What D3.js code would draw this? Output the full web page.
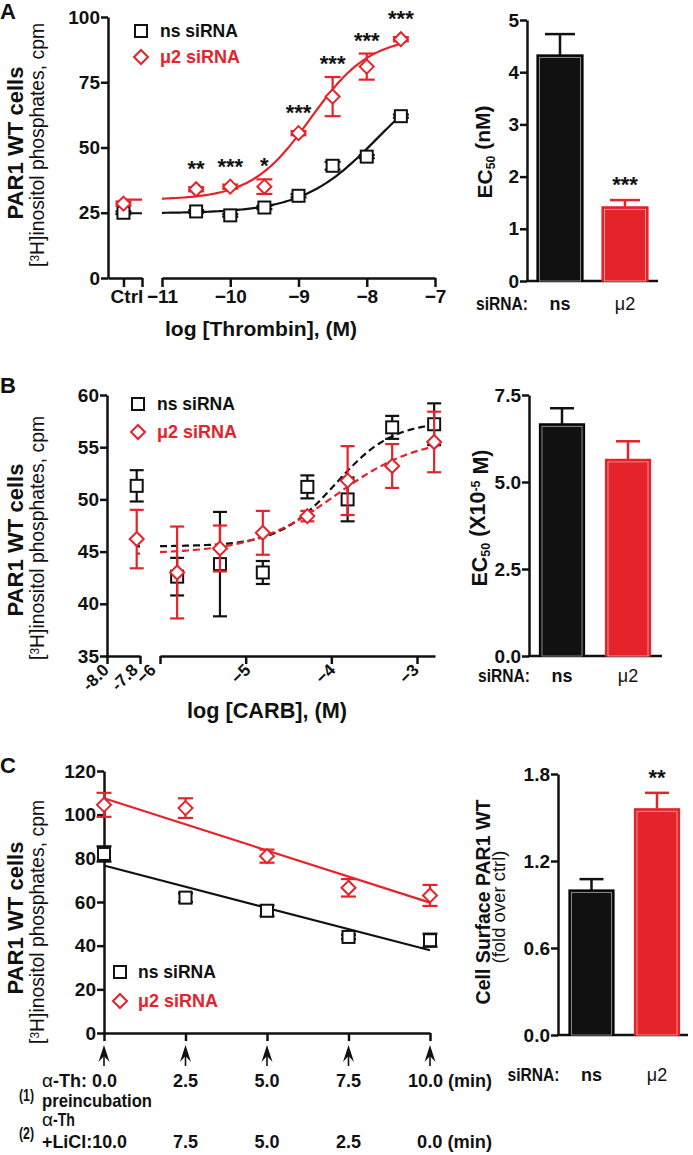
<!DOCTYPE html>
<html><head><meta charset="utf-8">
<script src="https://cdn.jsdelivr.net/npm/d3@7"></script>
<style>body{margin:0;background:#fff}svg{display:block}</style>
</head><body><svg id="c" width="693" height="1155"></svg>
<script>
// ---------------- DATA ----------------
const seriesNames = ["ns siRNA", "μ2 siRNA"];
const barGroups = ["ns", "μ2"];

// Panel A: log [Thrombin]
const aLogX = [-10.5, -10, -9.5, -9, -8.5, -8, -7.5];
const aCtrlX = -13;
const aNsCtrl = [25.0, 0.5];
const aMuCtrl = [28.5, 0.8];
const aNsVal = [25.5, 24.0, 27.0, 31.5, 43.0, 46.5, 62.0];
const aNsErr = [0.5, 0.5, 0.6, 0.6, 1.5, 0.6, 0.6];
const aMuVal = [34.0, 35.0, 35.0, 55.5, 69.5, 81.0, 91.5];
const aMuErr = [0.8, 0.8, 2.8, 0.8, 7.5, 5.0, 0.8];
const aStars = ["**", "***", "*", "***", "***", "***", "***"];
const aFitNs = [24.8, 82, -7.85, 0.8];   // bottom, top, logEC50, hill
const aFitMu = [30, 92.5, -8.82, 1.0];
const aYTicks = [0, 25, 50, 75, 100];
const aXTicks = [-11, -10, -9, -8, -7];
const aEC50 = [4.33, 1.42];
const aEC50Err = [0.40, 0.13];
const aEC50Stars = ["", "***"];
const aEC50Ticks = [0, 1, 2, 3, 4, 5];

// Panel B: log [CARB]
const bCtrlX = -7.82;
const bLogX = [-5.8, -5.3, -4.8, -4.28, -3.81, -3.29, -2.8];
const bNsCtrl = [51.3, 1.5];
const bMuCtrl = [46.2, 2.8];
const bNsVal = [42.6, 43.8, 43.0, 51.2, 50.0, 56.9, 57.2];
const bNsErr = [1.8, 5.0, 1.1, 1.1, 2.1, 1.1, 2.0];
const bMuVal = [43.0, 45.3, 46.8, 48.4, 51.8, 53.2, 55.5];
const bMuErr = [4.4, 2.2, 2.1, 0.5, 3.3, 2.1, 2.9];
const bFitNs = [45.5, 57.5, -3.95, 1.3];
const bFitMu = [44.8, 56.0, -3.95, 0.9];
const bYTicks = [35, 40, 45, 50, 55, 60];
const bXTicks1 = [-8.0, -7.8];
const bXTicks1Labels = ["-8.0", "-7.8"];
const bXTicks2 = [-6, -5, -4, -3];
const bEC50 = [6.67, 5.65];
const bEC50Err = [0.45, 0.52];
const bEC50Ticks = [0, 2.5, 5.0, 7.5];

// Panel C: time course
const cTime = [0, 2.5, 5.0, 7.5, 10.0];
const cNsVal = [82.0, 62.0, 56.0, 44.0, 42.5];
const cNsErr = [3.5, 2.0, 2.5, 1.0, 3.0];
const cMuVal = [104.5, 103.0, 81.0, 66.5, 63.0];
const cMuErr = [5.5, 4.5, 3.0, 4.0, 4.8];
const cYTicks = [0, 20, 40, 60, 80, 100, 120];
const cRow1 = ["0.0", "2.5", "5.0", "7.5", "10.0"];
const cRow2 = ["10.0", "7.5", "5.0", "2.5", "0.0"];
const cSurface = [1.0, 1.56];
const cSurfaceErr = [0.075, 0.11];
const cSurfaceStars = ["", "**"];
const cSurfaceTicks = [0, 0.6, 1.2, 1.8];

// ---------------- DRAWING ----------------
const BLACK = "#111", RED = "#e4232a";
const FONT = "'Liberation Sans', Arial, Helvetica, sans-serif";
const svg = d3.select("#c");

function txt(x, y, s, o = {}) {
  const t = svg.append("text").attr("x", x).attr("y", y).text(s)
    .attr("font-family", FONT)
    .attr("font-size", o.size || 18)
    .attr("font-weight", o.weight || "bold")
    .attr("fill", o.fill || BLACK)
    .attr("text-anchor", o.anchor || "start");
  if (o.rotate) t.attr("transform", `rotate(${o.rotate},${x},${y})`);
  if (o.len) fitLen(t, o.len);
  if (o.squeeze) t.attr("textLength", o.squeeze).attr("lengthAdjust", "spacingAndGlyphs");
  return t;
}
// scale font size so that the text run has the given length
function fitLen(t, target) {
  const w = t.node().getComputedTextLength();
  const fs = parseFloat(t.attr("font-size"));
  if (w > 0) t.attr("font-size", (fs * target / w).toFixed(2));
}
function styleAxis(g, size) {
  g.attr("font-family", FONT).attr("font-size", size).attr("font-weight", "bold");
  g.select(".domain").attr("stroke", BLACK).attr("stroke-width", 2.5);
  g.selectAll(".tick line").attr("stroke", BLACK).attr("stroke-width", 2.5);
  g.selectAll(".tick text").attr("fill", BLACK);
}
function fitY(p, x) { const [b, t, l, h] = p; return b + (t - b) / (1 + Math.pow(10, (l - x) * h)); }

function yTitles(cx, cy, cy2) {
  txt(cx, cy, "PAR1 WT cells", { size: 21, anchor: "middle", rotate: -90, len: 153 });
  const t = svg.append("text").attr("transform", `translate(${cx + 21},${cy2}) rotate(-90)`)
    .attr("text-anchor", "middle").attr("font-family", FONT).attr("font-size", 17).attr("fill", BLACK);
  t.append("tspan").text("[");
  t.append("tspan").text("3").attr("font-size", "0.62em").attr("dy", "-0.45em");
  t.append("tspan").text("H]inositol phosphates, cpm").attr("dy", "0.28em");
  fitLen(t, 244);
}

function square(x, y, color) {
  svg.append("rect").attr("x", x - 6).attr("y", y - 6).attr("width", 12).attr("height", 12)
    .attr("fill", "#fff").attr("stroke", color).attr("stroke-width", 2);
}
function diamond(x, y, color) {
  svg.append("path").attr("d", `M${x},${y - 7}L${x + 7},${y}L${x},${y + 7}L${x - 7},${y}Z`)
    .attr("fill", "#fff").attr("stroke", color).attr("stroke-width", 2);
}
function errBar(x, lo, hi, color, cap) {
  const g = svg.append("g").attr("stroke", color).attr("stroke-width", 2.2);
  g.append("line").attr("x1", x).attr("x2", x).attr("y1", lo).attr("y2", hi);
  g.append("line").attr("x1", x - cap / 2).attr("x2", x + cap / 2).attr("y1", lo).attr("y2", lo);
  g.append("line").attr("x1", x - cap / 2).attr("x2", x + cap / 2).attr("y1", hi).attr("y2", hi);
}
function points(xs, vals, errs, xScale, yScale, color, shape, cap) {
  xs.forEach((xv, i) => {
    if (errs[i] > 0) errBar(xScale(xv), yScale(vals[i] - errs[i]), yScale(vals[i] + errs[i]), color, cap);
  });
  xs.forEach((xv, i) => {
    const x = xScale(xv), y = yScale(vals[i]);
    shape === "sq" ? square(x, y, color) : diamond(x, y, color);
  });
}
function curve(p, x0, x1, xScale, yScale, color, dashed) {
  const pts = d3.range(0, 121).map(i => x0 + (x1 - x0) * i / 120);
  svg.append("path").attr("d", d3.line().x(d => xScale(d)).y(d => yScale(fitY(p, d)))(pts))
    .attr("fill", "none").attr("stroke", color).attr("stroke-width", 2.2)
    .attr("stroke-dasharray", dashed ? "7,4" : null);
}
function legend(x, y1, y2, tx) {
  square(x, y1, BLACK);
  txt(tx, y1 + 6, seriesNames[0], { size: 17.5, len: 78 });
  diamond(x, y2, RED);
  txt(tx, y2 + 6, seriesNames[1], { size: 17.5, fill: RED, len: 80 });
}

function barChart(o) {
  const y = d3.scaleLinear().domain(o.yDomain).range(o.yRange);
  const gy = svg.append("g").attr("transform", `translate(${o.axisX},0)`)
    .call(d3.axisLeft(y).tickValues(o.ticks).tickFormat(o.fmt).tickSize(7).tickSizeOuter(0).tickPadding(1));
  styleAxis(gy, 19);
  svg.append("line").attr("x1", o.axisX - 1).attr("x2", o.axisEnd).attr("y1", o.yRange[0]).attr("y2", o.yRange[0])
    .attr("stroke", BLACK).attr("stroke-width", 2.5);
  const colors = [BLACK, RED];
  const strokes = ["#000", "#e4232a"];
  o.values.forEach((v, i) => {
    const cx = o.centers[i], w = o.width, top = y(v + o.errs[i]);
    svg.append("line").attr("x1", cx - o.cap / 2).attr("x2", cx + o.cap / 2)
      .attr("y1", top).attr("y2", top).attr("stroke", colors[i]).attr("stroke-width", 2.5);
    svg.append("line").attr("x1", cx).attr("x2", cx).attr("y1", y(v)).attr("y2", top)
      .attr("stroke", colors[i]).attr("stroke-width", 2.5);
    svg.append("rect").attr("x", cx - w / 2).attr("y", y(v)).attr("width", w).attr("height", o.yRange[0] - y(v))
      .attr("fill", colors[i]).attr("stroke", strokes[i]).attr("stroke-width", 1.2);
    svg.append("rect").attr("x", cx - w / 2 + 2.5).attr("y", y(v) + 2.5).attr("width", w - 5).attr("height", o.yRange[0] - y(v) - 2.5)
      .attr("fill", "none").attr("stroke", "#fff").attr("stroke-opacity", 0.55).attr("stroke-width", 0.9);
    if (o.stars && o.stars[i]) txt(cx, top - 8, o.stars[i], { size: 22, anchor: "middle" });
  });
  txt(o.centers[0] - 32, o.labelY, "siRNA:", { size: 18, anchor: "end", squeeze: 52 });
  txt(o.centers[0], o.labelY, barGroups[0], { size: 18, anchor: "middle" });
  txt(o.centers[1], o.labelY, barGroups[1], { size: 18, anchor: "middle", weight: "normal" });
}
function ecTitle(x, y, withExp, target) {
  const t = svg.append("text").attr("transform", `translate(${x},${y}) rotate(-90)`).attr("text-anchor", "middle")
    .attr("font-family", FONT).attr("font-size", 21).attr("font-weight", "bold").attr("fill", BLACK);
  t.append("tspan").text("EC");
  t.append("tspan").text("50").attr("font-size", "0.58em").attr("dy", "0.25em");
  if (!withExp) {
    t.append("tspan").text(" (nM)").attr("dy", "-0.25em");
  } else {
    t.append("tspan").text(" (X10").attr("dy", "-0.25em");
    t.append("tspan").text("-5").attr("font-size", "0.58em").attr("dy", "-0.4em");
    t.append("tspan").text(" M)").attr("dy", "0.4em");
  }
  fitLen(t, target);
}

// ======== Panel A ========
txt(0, 19, "A", { size: 22 });
yTitles(23, 143, 145);
{
  const y = d3.scaleLinear().domain([0, 100]).range([278, 17]);
  const x1 = d3.scaleLinear().domain([-13.5, -12.4]).range([108, 142]);
  const x2 = d3.scaleLinear().domain([-11, -7]).range([162, 435]);
  const gy = svg.append("g").attr("transform", "translate(108,0)")
    .call(d3.axisLeft(y).tickValues(aYTicks).tickSize(7).tickSizeOuter(0).tickPadding(1));
  styleAxis(gy, 19);
  const gx1 = svg.append("g").attr("transform", "translate(0,278)")
    .call(d3.axisBottom(x1).tickValues([aCtrlX, -12.4]).tickFormat(d => d === aCtrlX ? "Ctrl" : "").tickSize(9).tickSizeOuter(0).tickPadding(3));
  styleAxis(gx1, 19);
  gx1.selectAll(".tick text").attr("dx", 3);
  const gx2 = svg.append("g").attr("transform", "translate(0,278)")
    .call(d3.axisBottom(x2).tickValues(aXTicks).tickFormat(d3.format("d")).tickSize(9).tickSizeOuter(0).tickPadding(3));
  styleAxis(gx2, 19);
  txt(261, 336, "log [Thrombin], (M)", { size: 21, anchor: "middle", len: 192 });

  curve(aFitNs, aCtrlX, -12.4, x1, y, BLACK);
  curve(aFitMu, aCtrlX, -12.4, x1, y, RED);
  curve(aFitNs, -11, -7.5, x2, y, BLACK);
  curve(aFitMu, -11, -7.5, x2, y, RED);
  points([aCtrlX], [aNsCtrl[0]], [aNsCtrl[1]], x1, y, BLACK, "sq", 16);
  points([aCtrlX], [aMuCtrl[0]], [aMuCtrl[1]], x1, y, RED, "dia", 16);
  points(aLogX, aNsVal, aNsErr, x2, y, BLACK, "sq", 16);
  points(aLogX, aMuVal, aMuErr, x2, y, RED, "dia", 16);
  aLogX.forEach((xv, i) => {
    const base = Math.min(y(aMuVal[i]) - 7, y(aMuVal[i] + aMuErr[i])) - 6;
    txt(x2(xv), base, aStars[i], { size: 22, anchor: "middle" });
  });
  legend(141, 31, 57, 160);
}
barChart({ yDomain: [0, 5], yRange: [281, 20], axisX: 527, axisEnd: 658, ticks: aEC50Ticks, fmt: d3.format("d"),
  values: aEC50, errs: aEC50Err, centers: [560, 625], width: 46, cap: 30, stars: aEC50Stars, labelY: 310 });
ecTitle(492, 152, false, 93);

// ======== Panel B ========
txt(0, 393, "B", { size: 22 });
yTitles(23, 540, 538);
{
  const y = d3.scaleLinear().domain([35, 60]).range([656, 395]);
  const x1 = d3.scaleLinear().domain([-8.0, -7.8]).range([107, 140]);
  const x2 = d3.scaleLinear().domain([-6, -2.79]).range([160, 435]);
  const gy = svg.append("g").attr("transform", "translate(107,0)")
    .call(d3.axisLeft(y).tickValues(bYTicks).tickSize(7).tickSizeOuter(0).tickPadding(1));
  styleAxis(gy, 19);
  const gx1 = svg.append("g").attr("transform", "translate(0,656)")
    .call(d3.axisBottom(x1).tickValues(bXTicks1).tickFormat(() => "").tickSize(8).tickSizeOuter(0));
  styleAxis(gx1, 19);
  const gx2 = svg.append("g").attr("transform", "translate(0,656)")
    .call(d3.axisBottom(x2).tickValues(bXTicks2).tickFormat(() => "").tickSize(8).tickSizeOuter(0));
  styleAxis(gx2, 19);
  const off1 = [3, -1], off2 = [-3, 6, 5, 3];
  bXTicks1.forEach((v, i) => txt(x1(v) + off1[i], 671, bXTicks1Labels[i], { size: 17, anchor: "end", rotate: -45 }));
  bXTicks2.forEach((v, i) => txt(x2(v) + off2[i], 671, d3.format("d")(v), { size: 17, anchor: "end", rotate: -45 }));
  txt(267, 718, "log [CARB], (M)", { size: 21, anchor: "middle", len: 160 });

  curve(bFitNs, -7.82, -7.8, x1, y, BLACK, true);
  curve(bFitMu, -7.82, -7.8, x1, y, RED, true);
  curve(bFitNs, -6, -2.75, x2, y, BLACK, true);
  curve(bFitMu, -6, -2.75, x2, y, RED, true);
  points([bCtrlX], [bNsCtrl[0]], [bNsCtrl[1]], x1, y, BLACK, "sq", 14);
  points(bLogX, bNsVal, bNsErr, x2, y, BLACK, "sq", 14);
  points([bCtrlX], [bMuCtrl[0]], [bMuCtrl[1]], x1, y, RED, "dia", 14);
  points(bLogX, bMuVal, bMuErr, x2, y, RED, "dia", 14);
  legend(138, 404, 432, 157);
}
barChart({ yDomain: [0, 7.5], yRange: [656, 395], axisX: 529, axisEnd: 662, ticks: bEC50Ticks, fmt: d3.format(".1f"),
  values: bEC50, errs: bEC50Err, centers: [562, 628], width: 45, cap: 24, stars: null, labelY: 682 });
ecTitle(487, 518, true, 137);

// ======== Panel C ========
txt(0, 773, "C", { size: 22 });
yTitles(23, 918, 922);
{
  const y = d3.scaleLinear().domain([0, 120]).range([1033, 771]);
  const x = d3.scaleLinear().domain([0, 10]).range([104, 430]);
  const gy = svg.append("g").attr("transform", "translate(104,0)")
    .call(d3.axisLeft(y).tickValues(cYTicks).tickSize(7).tickSizeOuter(0).tickPadding(1));
  styleAxis(gy, 19);
  const gx = svg.append("g").attr("transform", "translate(0,1033)")
    .call(d3.axisBottom(x).tickValues(cTime).tickFormat(() => "").tickSize(8).tickSizeOuter(0));
  styleAxis(gx, 19);
  cTime.forEach(t => {
    const xx = x(t);
    svg.append("path").attr("d", `M${xx},1045L${xx - 5.5},1062L${xx},1056L${xx + 5.5},1062Z`).attr("fill", BLACK);
    svg.append("line").attr("x1", xx).attr("x2", xx).attr("y1", 1054).attr("y2", 1066).attr("stroke", BLACK).attr("stroke-width", 1.6);
  });
  function reg(xs, ys) {
    const mx = d3.mean(xs), my = d3.mean(ys);
    const b = d3.sum(xs.map((v, i) => (v - mx) * (ys[i] - my))) / d3.sum(xs.map(v => (v - mx) ** 2));
    return [my - b * mx, b];
  }
  [[cNsVal, BLACK], [cMuVal, RED]].forEach(([vals, col]) => {
    const [a, b] = reg(cTime, vals);
    svg.append("line").attr("x1", x(0)).attr("x2", x(10)).attr("y1", y(a)).attr("y2", y(a + b * 10))
      .attr("stroke", col).attr("stroke-width", 2.2);
  });
  points(cTime, cNsVal, cNsErr, x, y, BLACK, "sq", 15);
  points(cTime, cMuVal, cMuErr, x, y, RED, "dia", 15);
  legend(120, 972, 1001, 138);

  // annotation rows
  txt(42, 1087, "α", { size: 19, weight: "normal" });
  txt(53, 1087, "-Th: " + cRow1[0], { size: 19, squeeze: 64 });
  cTime.slice(1, 4).forEach((t, i) => txt(x(t), 1087, cRow1[i + 1], { size: 18, anchor: "middle" }));
  txt(408, 1087, cRow1[4] + " (min)", { size: 18, squeeze: 84 });
  txt(19, 1101, "(1)", { size: 16, squeeze: 15 });
  txt(42, 1107, "preincubation", { size: 19, squeeze: 110 });
  txt(42, 1126, "α", { size: 19, weight: "normal" });
  txt(53, 1126, "-Th", { size: 19, squeeze: 22 });
  txt(19, 1139, "(2)", { size: 16, squeeze: 15 });
  txt(42, 1148, "+LiCl:" + cRow2[0], { size: 19, squeeze: 85 });
  cTime.slice(1, 4).forEach((t, i) => txt(x(t), 1148, cRow2[i + 1], { size: 18, anchor: "middle" }));
  txt(417, 1148, cRow2[4] + " (min)", { size: 18, squeeze: 75 });
}
barChart({ yDomain: [0, 1.8], yRange: [1035, 774], axisX: 558, axisEnd: 688, ticks: cSurfaceTicks, fmt: d3.format(".1f"),
  values: cSurface, errs: cSurfaceErr, centers: [591.5, 657], width: 45, cap: 24, stars: cSurfaceStars, labelY: 1081 });
txt(490, 902, "Cell Surface PAR1 WT", { size: 19, anchor: "middle", rotate: -90, len: 205 });
txt(505, 907, "(fold over ctrl)", { size: 15, anchor: "middle", rotate: -90, weight: "normal", len: 113 });
</script></body></html>
